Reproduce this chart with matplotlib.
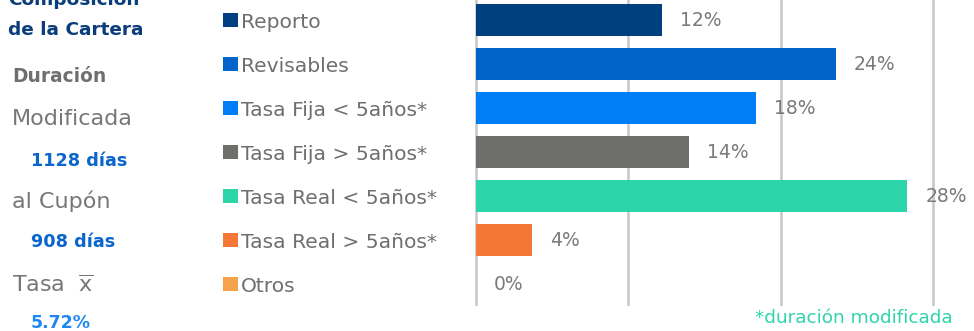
import numpy as np
import matplotlib.pyplot as plt
import matplotlib.transforms as mtransforms

# data
categorias = ["Reporto", "Revisables", "Tasa Fija < 5años*", "Tasa Fija > 5años*",
              "Tasa Real < 5años*", "Tasa Real > 5años*", "Otros"]
porcentajes = [12.2, 23.6, 18.4, 14.0, 28.3, 3.7, 0.0]
colores = ["#003f80", "#0064c8", "#007ef8", "#6e6e6a", "#2dd5aa", "#f47735", "#f5a24b"]

panel_izq = [("Composición", "bold_title"), ("de la Cartera", "bold_title"),
             ("Duración", "bold_gray"), ("Modificada", "gray"),
             ("1128 días", "bold_blue"), ("al Cupón", "gray"),
             ("908 días", "bold_blue"), ("Tasa  $\\overline{\\mathrm{x}}$", "gray"),
             ("5.72%", "bold_light")]
nota = "*duración modificada"

W, H = 974, 331
fig = plt.figure(figsize=(W / 100, H / 100), dpi=100)
plt.rcParams['font.family'] = ['DejaVu Sans']
plt.rcParams['mathtext.fontset'] = 'custom'
plt.rcParams['mathtext.rm'] = 'DejaVu Sans'

# axes: 0 -> x=476px, 30 -> x=933px
ppu = (933 - 476) / 30.0
x0, x1 = -0.1, 30.1
left = (476 + x0 * ppu) / W
right = (476 + x1 * ppu) / W
top_px, bot_px = -2, 306
ax = fig.add_axes([left, 1 - bot_px / H, right - left, (bot_px - top_px) / H])

y = np.arange(len(categorias))
bars = ax.barh(y, porcentajes, height=0.73, color=colores, zorder=3)
ax.bar_label(bars, labels=[f"{v:.0f}%" for v in porcentajes], padding=13,
             color="#7a7a7a", fontsize=13.5)

ax.set_xlim(x0, x1)
ax.set_ylim(len(categorias) - 0.5, -0.5)
ax.set_xticks([0, 10, 20, 30])
ax.set_yticks([])
ax.tick_params(axis='x', length=0, labelbottom=False)
ax.grid(axis='x', color="#c6c6c6", linewidth=1.8, zorder=0)
for s in ax.spines.values():
    s.set_visible(False)

# category legend (square + label) left of the bars
trans = mtransforms.blended_transform_factory(fig.transFigure, ax.transData)
ax.scatter([230.5 / W] * len(y), y, marker='s', s=110, c=colores,
           transform=trans, clip_on=False, linewidths=0)
for yi, cat in zip(y, categorias):
    ax.text(241 / W, yi, cat, transform=trans, ha='left', va='center_baseline',
            fontsize=14.6, color="#6f6f6f", clip_on=False)

# left panel
estilos = {
    "bold_title": dict(color="#0a3d7a", fontweight="bold", fontsize=13.3, x=8),
    "bold_gray": dict(color="#6f6f6f", fontweight="bold", fontsize=13.4, x=12),
    "gray": dict(color="#777777", fontsize=16, x=12),
    "bold_blue": dict(color="#0a66cc", fontweight="bold", fontsize=12.7, x=31),
    "bold_light": dict(color="#1e88f0", fontweight="bold", fontsize=12.5, x=31),
}
ys_px = [-2, 28, 75, 117, 159, 199, 240, 283, 321]
for (txt, st), yp in zip(panel_izq, ys_px):
    kw = dict(estilos[st])
    xp = kw.pop("x")
    fig.text(xp / W, 1 - yp / H, txt, ha='left', va='center_baseline', **kw)

fig.text(953 / W, 1 - 316 / H, nota, ha='right', va='center_baseline',
         color="#2dd5aa", fontsize=13.3)

fig.savefig("out.png", dpi=100)
